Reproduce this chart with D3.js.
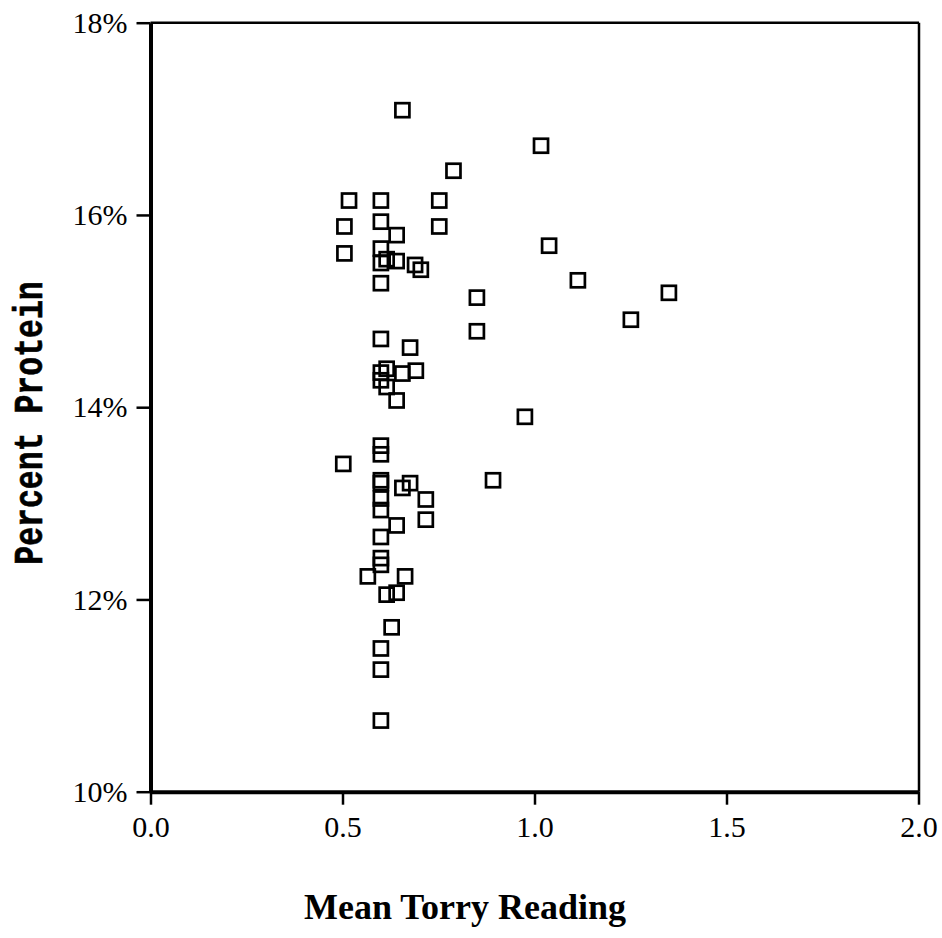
<!DOCTYPE html>
<html>
<head>
<meta charset="utf-8">
<script src="https://cdn.jsdelivr.net/npm/d3@7"></script>
<style>
  html, body { margin: 0; padding: 0; background: #fff; }
  svg { display: block; }
</style>
</head>
<body>
<div id="chart"></div>
<script>
// Mean Torry freshness reading against protein content of each sample
const torry = [
  0.656, 1.017, 0.789, 0.517, 0.600, 0.752, 0.505, 0.600, 0.752, 0.641,
  1.038, 0.505, 0.600, 0.600, 0.615, 0.641, 0.689, 0.704, 0.600, 1.113,
  0.850, 1.350, 1.251, 0.850, 0.600, 0.676, 0.615, 0.656, 0.691, 0.600,
  0.600, 0.615, 0.641, 0.975, 0.600, 0.600, 0.502, 0.600, 0.600, 0.600,
  0.600, 0.656, 0.676, 0.717, 0.892, 0.641, 0.717, 0.600, 0.600, 0.600,
  0.566, 0.663, 0.615, 0.641, 0.628, 0.600, 0.600, 0.600
];
const protein = [
  17.09, 16.72, 16.46, 16.15, 16.15, 16.15, 15.88, 15.93, 15.88, 15.79,
  15.68, 15.60, 15.65, 15.50, 15.54, 15.52, 15.48, 15.43, 15.29, 15.32,
  15.14, 15.19, 14.91, 14.79, 14.71, 14.62, 14.40, 14.35, 14.38, 14.36,
  14.28, 14.21, 14.07, 13.90, 13.60, 13.51, 13.41, 13.24, 13.21, 13.05,
  12.93, 13.16, 13.21, 13.04, 13.24, 12.77, 12.83, 12.65, 12.43, 12.36,
  12.24, 12.24, 12.05, 12.07, 11.71, 11.49, 11.27, 10.74
];
const xTicks = [0, 0.5, 1.0, 1.5, 2.0];
const yTicks = [10, 12, 14, 16, 18];
const xTitle = "Mean Torry Reading";
const yTitle = "Percent Protein";

const W = 942, H = 938;
const plotL = 150.5, plotR = 919, plotT = 22.7, plotB = 791.7;

const svg = d3.select("#chart").append("svg")
  .attr("width", W).attr("height", H);

const x = d3.scaleLinear().domain([0, 2]).range([plotL, 918.5]);
const y = d3.scaleLinear().domain([10, 18]).range([plotB, plotT]);

// frame: top and right edges
svg.append("line").attr("x1", plotL).attr("x2", plotR).attr("y1", plotT).attr("y2", plotT)
  .attr("stroke", "#000").attr("stroke-width", 2.5);
svg.append("line").attr("x1", plotR).attr("x2", plotR).attr("y1", plotT).attr("y2", plotB)
  .attr("stroke", "#000").attr("stroke-width", 2.5);

const tickFont = "'Liberation Serif', 'Times New Roman', serif";

const yAxis = svg.append("g").attr("transform", `translate(${plotL},0)`)
  .call(d3.axisLeft(y).tickValues(yTicks).tickSize(14).tickPadding(9)
    .tickSizeOuter(0).tickFormat(d => d + "%"));
const xAxis = svg.append("g").attr("transform", `translate(0,${plotB})`)
  .call(d3.axisBottom(x).tickValues(xTicks).tickSize(13).tickPadding(11)
    .tickSizeOuter(0).tickFormat(d3.format(".1f")));

[yAxis, xAxis].forEach(g => {
  g.select(".domain").attr("stroke-width", 4).attr("stroke", "#000");
  g.selectAll(".tick line").attr("stroke-width", 2.5).attr("stroke", "#000");
  g.selectAll(".tick text").attr("font-family", tickFont).attr("font-size", 30)
    .attr("fill", "#000");
});

// data markers: open squares
const s = 14;
svg.append("g").selectAll("rect")
  .data(torry.map((t, i) => [t, protein[i]]))
  .join("rect")
  .attr("x", d => x(d[0]) - s / 2)
  .attr("y", d => y(d[1]) - s / 2)
  .attr("width", s).attr("height", s)
  .attr("fill", "none").attr("stroke", "#000").attr("stroke-width", 2.7);

// axis titles
svg.append("text")
  .attr("x", 465).attr("y", 919)
  .attr("text-anchor", "middle")
  .attr("font-family", tickFont).attr("font-weight", "bold").attr("font-size", 36)
  .text(xTitle);

// monospace title, glyphs drawn tall and heavy
svg.append("text")
  .attr("transform", "translate(42,423) rotate(-90) scale(1,1.3)")
  .attr("text-anchor", "middle")
  .attr("font-family", "'Liberation Mono', 'Courier New', monospace")
  .attr("font-weight", "bold").attr("font-size", 31.5)
  .attr("stroke", "#000").attr("stroke-width", 0.5)
  .text(yTitle);
</script>
</body>
</html>
